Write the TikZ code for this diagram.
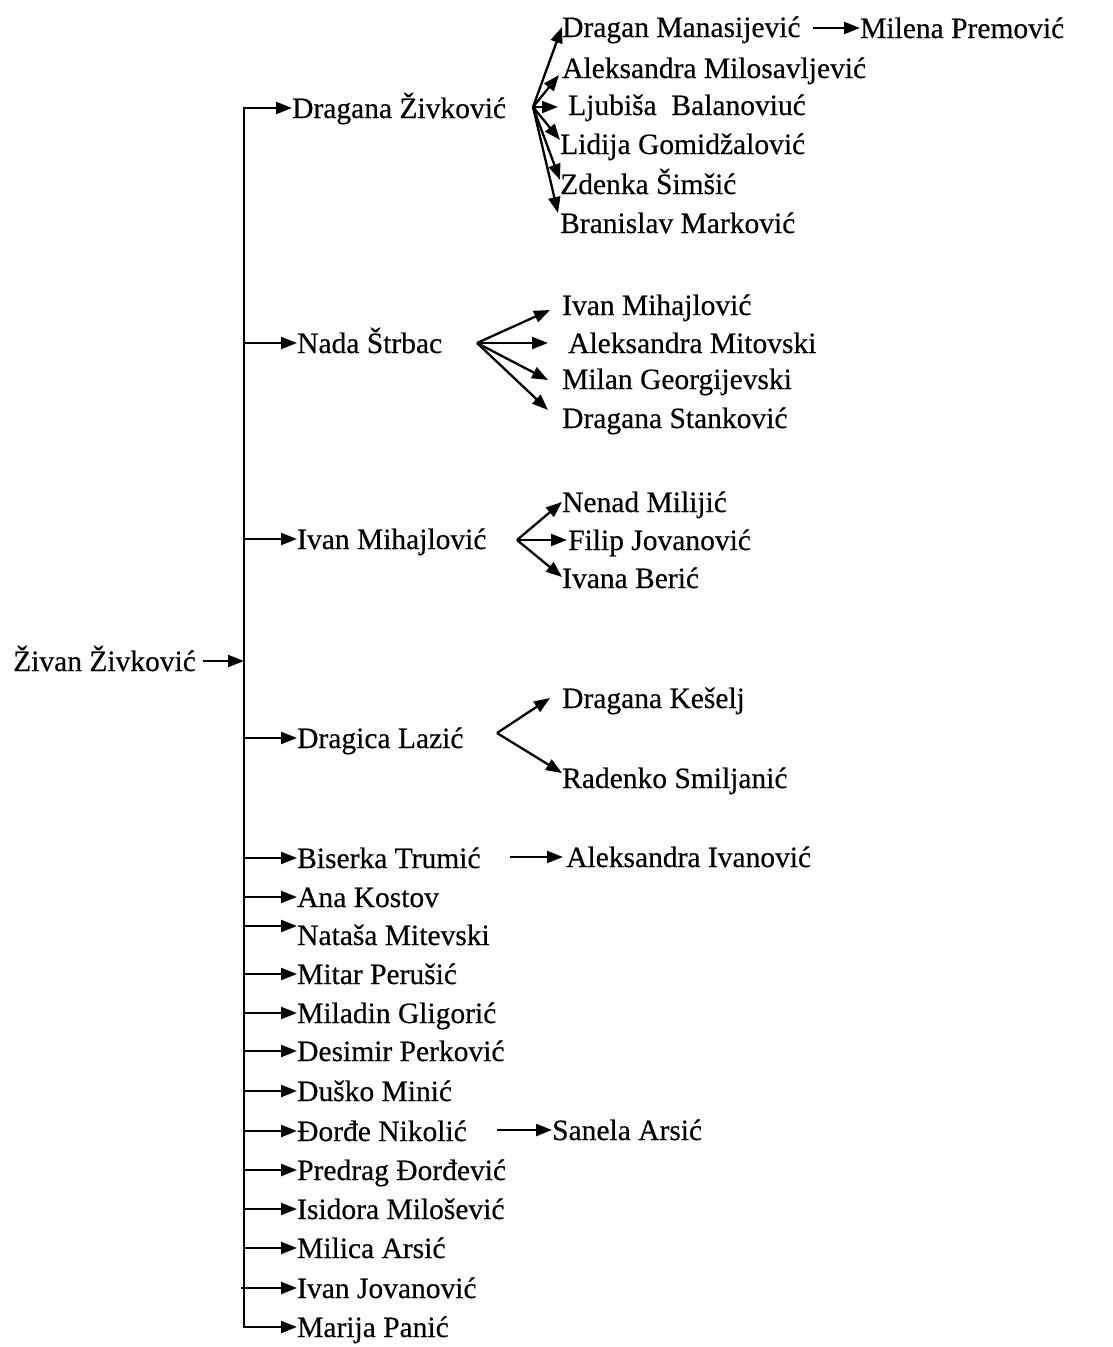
\documentclass[tikz,border=0pt]{standalone}
\usepackage{fontspec}
\setmainfont[FakeBold=0.4]{Liberation Serif}
\usetikzlibrary{arrows.meta,calc}
\begin{document}
\begin{tikzpicture}[x=1pt,y=-1pt,
  lbl/.style={anchor=west,inner sep=0pt,text height=20pt,text depth=0pt,font=\fontsize{29.5}{31}\selectfont},
  arr/.style={-{Triangle[length=16pt,width=12pt]},line width=2.3pt},
  vline/.style={line width=2.3pt,line cap=rect}]
\useasboundingbox (0,0) rectangle (1112,1347);
% root
\node[lbl] (r) at (13,661) {Živan Živković};
\coordinate (v) at (244,661);
\coordinate (r0) at (203,661);
\draw[arr] (r0) -- (v);
% level 1
\node[lbl] (d1) at (292,108) {Dragana Živković};
\node[lbl] (d2) at (297,343) {Nada Štrbac};
\node[lbl] (d3) at (297,539) {Ivan Mihajlović};
\node[lbl] (d4) at (297,738) {Dragica Lazić};
\node[lbl] (d5) at (297,858) {Biserka Trumić};
\node[lbl] (d6) at (297,897) {Ana Kostov};
\node[lbl] (d7) at (297,935) {Nataša Mitevski};
\node[lbl] (d8) at (297,974) {Mitar Perušić};
\node[lbl] (d9) at (297,1013) {Miladin Gligorić};
\node[lbl] (d10) at (297,1051) {Desimir Perković};
\node[lbl] (d11) at (297,1091) {Duško Minić};
\node[lbl] (d12) at (297,1131) {Đorđe Nikolić};
\node[lbl] (d13) at (297,1170) {Predrag Đorđević};
\node[lbl] (d14) at (297,1209) {Isidora Milošević};
\node[lbl] (d15) at (297,1248) {Milica Arsić};
\node[lbl] (d16) at (297,1288) {Ivan Jovanović};
\node[lbl] (d17) at (297,1327) {Marija Panić};
\draw[vline] (v |- d1.west) -- (v |- d17.west);
\foreach \i in {1,2,3,4,5,6,8,9,10,11,12,13,14,15,17}
  \draw[arr] (v |- d\i.west) -- (d\i.west);
\draw[arr] ($(v |- d7.west)+(0,-9)$) -- ($(d7.west)+(0,-9)$);
\draw[arr] ($(v |- d16.west)+(-3,0)$) -- (d16.west);
% Dragana Zivkovic children
\coordinate (f1) at (533,107);
\node[lbl] (a1) at (562,27) {Dragan Manasijević};
\node[lbl] (a2) at (562,68) {Aleksandra Milosavljević};
\node[lbl] (a3) at (568,105) {Ljubiša\ \ Balanoviuć};
\node[lbl] (a4) at (560,144) {Lidija Gomidžalović};
\node[lbl] (a5) at (560,184) {Zdenka Šimšić};
\node[lbl] (a6) at (560,223) {Branislav Marković};
\draw[arr] (f1) -- (a1.west);
\draw[arr] (f1) -- ($(a2.west)+(-3,7)$);
\draw[arr] (f1) -- ($(a3.west)+(-10,2)$);
\draw[arr] (f1) -- ($(a4.west)+(0,-4)$);
\draw[arr] (f1) -- ($(a5.west)+(0,-4)$);
\draw[arr] (f1) -- ($(a6.west)+(-2,-10)$);
\node[lbl] (m) at (860,28) {Milena Premović};
\coordinate (m0) at (813,28);
\draw[arr] (m0) -- (m.west);
% Nada Strbac children
\coordinate (f2) at (477,343);
\node[lbl] (b1) at (562,305) {Ivan Mihajlović};
\node[lbl] (b2) at (568,343) {Aleksandra Mitovski};
\node[lbl] (b3) at (562,379) {Milan Georgijevski};
\node[lbl] (b4) at (562,418) {Dragana Stanković};
\draw[arr] (f2) -- ($(b1.west)+(-12,5)$);
\draw[arr] (f2) -- ($(b2.west)+(-20,0)$);
\draw[arr] (f2) -- ($(b3.west)+(-14,1)$);
\draw[arr] (f2) -- ($(b4.west)+(-14,-8)$);
% Ivan Mihajlovic children
\coordinate (f3) at (517,540);
\node[lbl] (c1) at (562,502) {Nenad Milijić};
\node[lbl] (c2) at (568,540) {Filip Jovanović};
\node[lbl] (c3) at (562,578) {Ivana Berić};
\draw[arr] (f3) -- (c1.west);
\draw[arr] (f3) -- ($(c2.west)+(-1,0)$);
\draw[arr] (f3) -- ($(c3.west)+(0,-1)$);
% Dragica Lazic children
\coordinate (f4) at (497,733);
\node[lbl] (e1) at (562,698) {Dragana Kešelj};
\node[lbl] (e2) at (562,778) {Radenko Smiljanić};
\draw[arr] (f4) -- ($(e1.west)+(-12,0)$);
\draw[arr] (f4) -- ($(e2.west)+(0,-5)$);
% single children
\node[lbl] (g1) at (566,857) {Aleksandra Ivanović};
\coordinate (g10) at (510,857);
\draw[arr] (g10) -- ($(g1.west)+(-3,0)$);
\node[lbl] (g2) at (552,1130) {Sanela Arsić};
\coordinate (g20) at (497,1130);
\draw[arr] (g20) -- (g2.west);
\end{tikzpicture}
\end{document}
